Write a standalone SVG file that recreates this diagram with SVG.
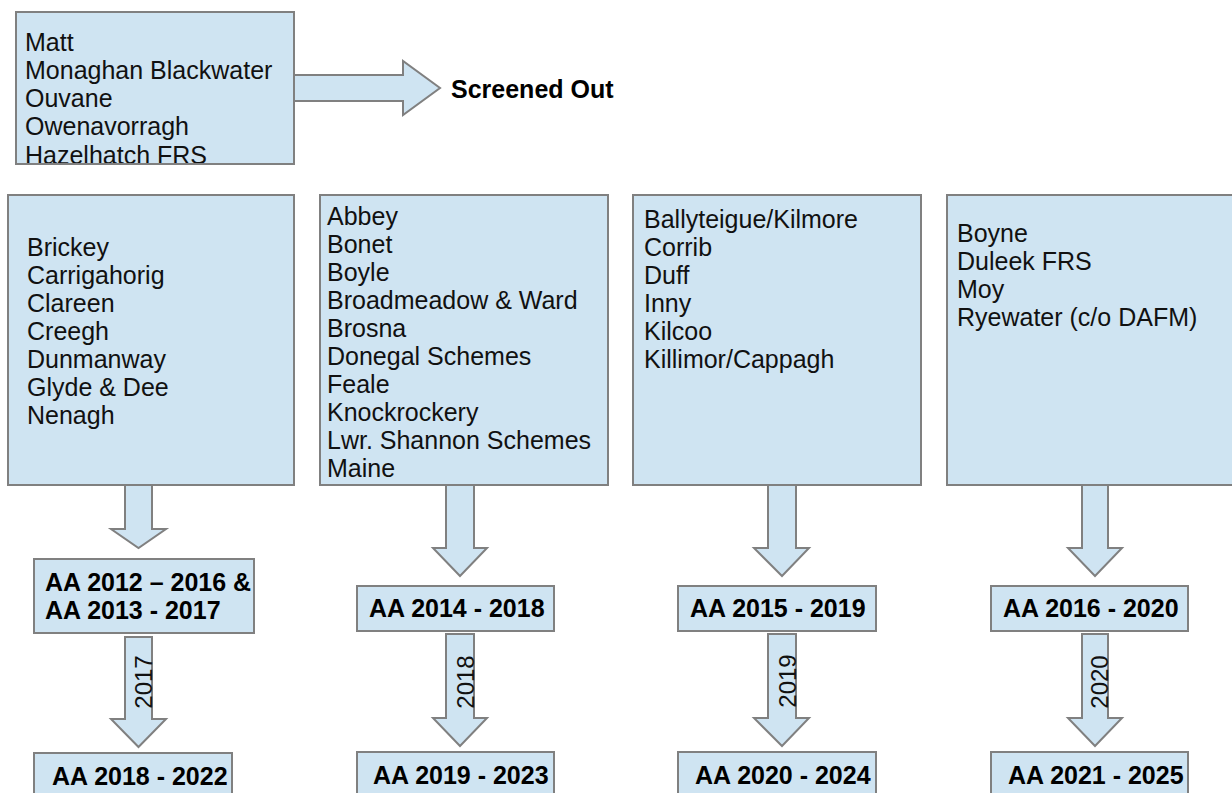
<svg xmlns="http://www.w3.org/2000/svg" width="1232" height="793" viewBox="0 0 1232 793">
<style>
.box{fill:#cfe4f2;stroke:#808080;stroke-width:2}
.frame{fill:none;stroke:#808080;stroke-width:2}
.arr{fill:#cfe4f2;stroke:#808080;stroke-width:2;stroke-linejoin:miter}
.t{font-family:"Liberation Sans",Arial,sans-serif;font-size:25px;fill:#111}
.b{font-family:"Liberation Sans",Arial,sans-serif;font-size:25px;font-weight:bold;fill:#000}
.lbl{font-family:"Liberation Sans",Arial,sans-serif;font-size:24px;fill:#111;text-anchor:middle}
</style>
<defs>
<clipPath id="clipTop"><rect x="16" y="12" width="278" height="151"/></clipPath>
</defs>
<rect width="1232" height="793" fill="#fff"/>
<g id="connectors">
<polygon class="arr" points="294,75 403,75 403,61 440,88 403,115 403,101 294,101"/>
<polygon class="arr" points="125,485 152,485 152,529 166,529 138.5,548 111,529 125,529"/>
<polygon class="arr" points="125,637 152,637 152,719 166,719 138.5,747 111,719 125,719"/>
<polygon class="arr" points="446,485 474,485 474,548 487,548 460,576 433,548 446,548"/>
<polygon class="arr" points="446,634 474,634 474,718 487,718 460,746 433,718 446,718"/>
<polygon class="arr" points="768,485 796,485 796,548 809,548 782,576 754,548 768,548"/>
<polygon class="arr" points="768,634 796,634 796,718 809,718 782,746 754,718 768,718"/>
<polygon class="arr" points="1082,485 1108,485 1108,548 1122,548 1095,576 1068,548 1082,548"/>
<polygon class="arr" points="1082,634 1108,634 1108,718 1122,718 1095,746 1068,718 1082,718"/>
<text class="lbl" transform="translate(152,682) rotate(-90)">2017</text>
<text class="lbl" transform="translate(474,682) rotate(-90)">2018</text>
<text class="lbl" transform="translate(796,681) rotate(-90)">2019</text>
<text class="lbl" transform="translate(1108,682) rotate(-90)">2020</text>
</g>
<g id="screened">
<rect class="box" x="16" y="12" width="278" height="152"/>
<g clip-path="url(#clipTop)">
<text class="t" x="25" y="51">Matt</text>
<text class="t" x="25" y="79">Monaghan Blackwater</text>
<text class="t" x="25" y="107">Ouvane</text>
<text class="t" x="25" y="135">Owenavorragh</text>
<text class="t" x="25" y="164">Hazelhatch FRS</text>
</g>
<rect class="frame" x="16" y="12" width="278" height="152"/>
</g>
<g id="screened-out">
<text class="b" x="451" y="98">Screened Out</text>
</g>
<g id="group1">
<rect class="box" x="8" y="195" width="286" height="290"/>
<text class="t" x="27" y="256">Brickey</text>
<text class="t" x="27" y="284">Carrigahorig</text>
<text class="t" x="27" y="312">Clareen</text>
<text class="t" x="27" y="340">Creegh</text>
<text class="t" x="27" y="368">Dunmanway</text>
<text class="t" x="27" y="396">Glyde &amp; Dee</text>
<text class="t" x="27" y="424">Nenagh</text>
</g>
<g id="group2">
<rect class="box" x="320" y="195" width="288" height="290"/>
<text class="t" x="327" y="225">Abbey</text>
<text class="t" x="327" y="253">Bonet</text>
<text class="t" x="327" y="281">Boyle</text>
<text class="t" x="327" y="309">Broadmeadow &amp; Ward</text>
<text class="t" x="327" y="337">Brosna</text>
<text class="t" x="327" y="365">Donegal Schemes</text>
<text class="t" x="327" y="393">Feale</text>
<text class="t" x="327" y="421">Knockrockery</text>
<text class="t" x="327" y="449">Lwr. Shannon Schemes</text>
<text class="t" x="327" y="477">Maine</text>
</g>
<g id="group3">
<rect class="box" x="633" y="195" width="288" height="290"/>
<text class="t" x="644" y="228">Ballyteigue/Kilmore</text>
<text class="t" x="644" y="256">Corrib</text>
<text class="t" x="644" y="284">Duff</text>
<text class="t" x="644" y="312">Inny</text>
<text class="t" x="644" y="340">Kilcoo</text>
<text class="t" x="644" y="368">Killimor/Cappagh</text>
</g>
<g id="group4">
<rect class="box" x="947" y="195" width="300" height="290"/>
<text class="t" x="957" y="242">Boyne</text>
<text class="t" x="957" y="270">Duleek FRS</text>
<text class="t" x="957" y="298">Moy</text>
<text class="t" x="957" y="326">Ryewater (c/o DAFM)</text>
</g>
<g id="aa-2012-2017">
<rect class="box" x="34" y="559" width="220" height="74"/>
<text class="b" x="45" y="591">AA 2012 – 2016 &amp;</text>
<text class="b" x="45" y="619">AA 2013 - 2017</text>
</g>
<g id="aa-2018-2022">
<rect class="box" x="34" y="753" width="198" height="60"/>
<text class="b" x="52" y="785">AA 2018 - 2022</text>
</g>
<g id="aa-2014-2018">
<rect class="box" x="357" y="586" width="197" height="45"/>
<text class="b" x="369" y="617">AA 2014 - 2018</text>
</g>
<g id="aa-2019-2023">
<rect class="box" x="357" y="752" width="197" height="60"/>
<text class="b" x="373" y="784">AA 2019 - 2023</text>
</g>
<g id="aa-2015-2019">
<rect class="box" x="678" y="586" width="198" height="45"/>
<text class="b" x="690" y="617">AA 2015 - 2019</text>
</g>
<g id="aa-2020-2024">
<rect class="box" x="678" y="752" width="198" height="60"/>
<text class="b" x="695" y="784">AA 2020 - 2024</text>
</g>
<g id="aa-2016-2020">
<rect class="box" x="991" y="586" width="197" height="45"/>
<text class="b" x="1003" y="617">AA 2016 - 2020</text>
</g>
<g id="aa-2021-2025">
<rect class="box" x="991" y="752" width="197" height="60"/>
<text class="b" x="1008" y="784">AA 2021 - 2025</text>
</g>
</svg>
